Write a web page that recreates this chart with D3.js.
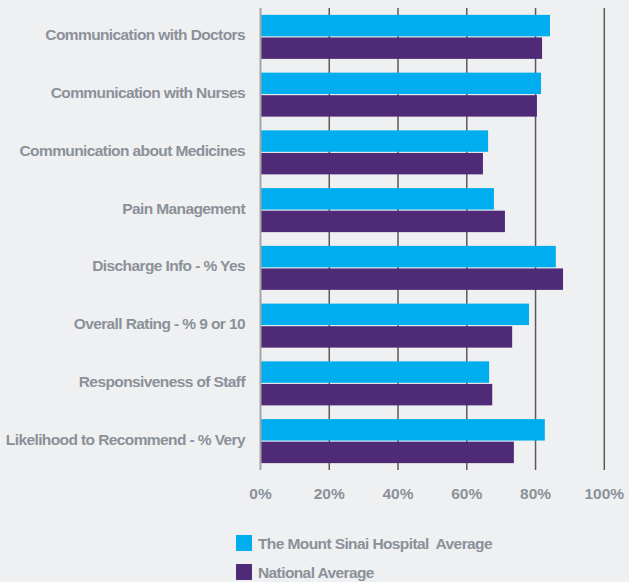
<!DOCTYPE html>
<html>
<head>
<meta charset="utf-8">
<script src="https://cdn.jsdelivr.net/npm/d3@7"></script>
<style>
  html, body { margin: 0; padding: 0; background: #eff0f2; }
  svg { display: block; font-family: "Liberation Sans", Arial, sans-serif; font-weight: bold; }
  .lbl { fill: #8b9199; }
</style>
</head>
<body>
<div id="chart"></div>
<script>
var categories = [
    "Communication with Doctors",
    "Communication with Nurses",
    "Communication about Medicines",
    "Pain Management",
    "Discharge Info - % Yes",
    "Overall Rating - % 9 or 10",
    "Responsiveness of Staff",
    "Likelihood to Recommend - % Very"
];
var mountSinai = [84.2, 81.6, 66.2, 67.9, 85.9, 78.1, 66.5, 82.7];
var national = [81.9, 80.4, 64.7, 71.1, 88.0, 73.2, 67.4, 73.7];
var seriesNames = ["The Mount Sinai Hospital  Average", "National Average"];
var seriesColors = ["#00aeef", "#4f2a76"];
var xTicks = [0, 20, 40, 60, 80, 100];

var chartW = 629, chartH = 582;
var plotLeft = 260.5, plotRight = 604.3, plotTop = 8, plotBottom = 470;

var svg = d3.select("#chart").append("svg")
    .attr("width", chartW)
    .attr("height", chartH);

var x = d3.scaleLinear().domain([0, 100]).range([plotLeft, plotRight]);
var y = d3.scaleBand().domain(categories).range([plotTop, plotBottom])
    .paddingInner(0.238).paddingOuter(0.119);
var sub = d3.scaleBand().domain([0, 1]).range([0, y.bandwidth()]).paddingInner(0.05);

// grid lines
svg.append("g").selectAll("line")
    .data(xTicks.filter(function(d) { return d > 0; }))
    .enter().append("line")
    .attr("x1", function(d) { return x(d); })
    .attr("x2", function(d) { return x(d); })
    .attr("y1", plotTop).attr("y2", plotBottom)
    .attr("stroke", "#5a5a5a")
    .attr("stroke-width", 1.5);

var rows = categories.map(function(c, i) {
    return { cat: c, vals: [mountSinai[i], national[i]] };
});

var groups = svg.append("g").selectAll("g")
    .data(rows)
    .enter().append("g")
    .attr("transform", function(d) { return "translate(0," + y(d.cat) + ")"; });

groups.selectAll("rect")
    .data(function(d) { return d.vals; })
    .enter().append("rect")
    .attr("x", x(0))
    .attr("y", function(d, i) { return sub(i); })
    .attr("height", sub.bandwidth())
    .attr("width", function(d) { return x(d) - x(0); })
    .attr("fill", function(d, i) { return seriesColors[i]; });

// zero line
svg.append("line")
    .attr("x1", x(0)).attr("x2", x(0))
    .attr("y1", plotTop).attr("y2", plotBottom)
    .attr("stroke", "#a3a5a8")
    .attr("stroke-width", 2);

// category labels
svg.append("g").selectAll("text")
    .data(categories)
    .enter().append("text")
    .attr("class", "lbl")
    .attr("x", 245)
    .attr("y", function(d) { return y(d) + y.bandwidth() / 2 + 3.5; })
    .attr("text-anchor", "end")
    .style("font-size", "15.5px")
    .style("letter-spacing", "-0.6px")
    .text(function(d) { return d; });

// x tick labels
svg.append("g").selectAll("text")
    .data(xTicks)
    .enter().append("text")
    .attr("class", "lbl")
    .attr("x", function(d) { return x(d); })
    .attr("y", 499)
    .attr("text-anchor", "middle")
    .style("font-size", "15.5px")
    .text(function(d) { return d + "%"; });

// legend
var legend = svg.append("g").selectAll("g")
    .data(seriesNames)
    .enter().append("g")
    .attr("transform", function(d, i) { return "translate(236," + (535 + i * 29) + ")"; });

legend.append("rect")
    .attr("width", 16).attr("height", 16)
    .attr("fill", function(d, i) { return seriesColors[i]; });

legend.append("text")
    .attr("class", "lbl")
    .attr("x", 22).attr("y", 14)
    .style("font-size", "15.5px")
    .style("letter-spacing", "-0.6px")
    .style("white-space", "pre")
    .text(function(d) { return d; });
</script>
</body>
</html>
